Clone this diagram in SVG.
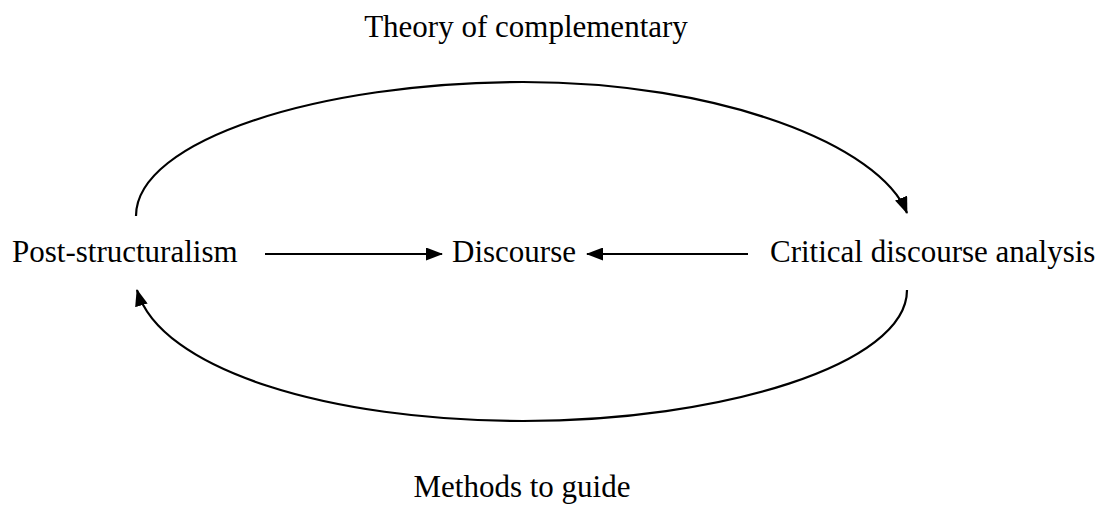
<svg xmlns="http://www.w3.org/2000/svg" width="1102" height="506" viewBox="0 0 1102 506">
<style>
text{font-family:"Liberation Serif","Times New Roman",serif;font-size:31px;fill:#000}
.c{fill:none;stroke:#000;stroke-width:2.2}
</style>
<defs>
<marker id="ah" markerWidth="17" markerHeight="13" refX="16" refY="6.5" orient="auto" markerUnits="userSpaceOnUse">
<path d="M0,0 L17,6.5 L0,13 Z" fill="#000"/>
</marker>
</defs>
<rect width="1102" height="506" fill="#fff"/>
<g id="label-top"><text x="526" y="37" text-anchor="middle">Theory of complementary</text></g>
<g id="label-bottom"><text x="522" y="497" text-anchor="middle">Methods to guide</text></g>
<g id="node-post"><text x="12" y="262">Post-structuralism</text></g>
<g id="node-discourse"><text x="452" y="262">Discourse</text></g>
<g id="node-cda"><text x="770" y="262">Critical discourse analysis</text></g>
<g id="connectors">
<path class="c" d="M265,254 L442,254" marker-end="url(#ah)"/>
<path class="c" d="M748,254 L587,254" marker-end="url(#ah)"/>
<path class="c" d="M136,216 C136,140 320,82 523,82 C720,82 880,145 907,213" marker-end="url(#ah)"/>
<path class="c" d="M907,290 C907,365 720,421 523,421 C330,421 160,370 137,290" marker-end="url(#ah)"/>
</g>
</svg>
